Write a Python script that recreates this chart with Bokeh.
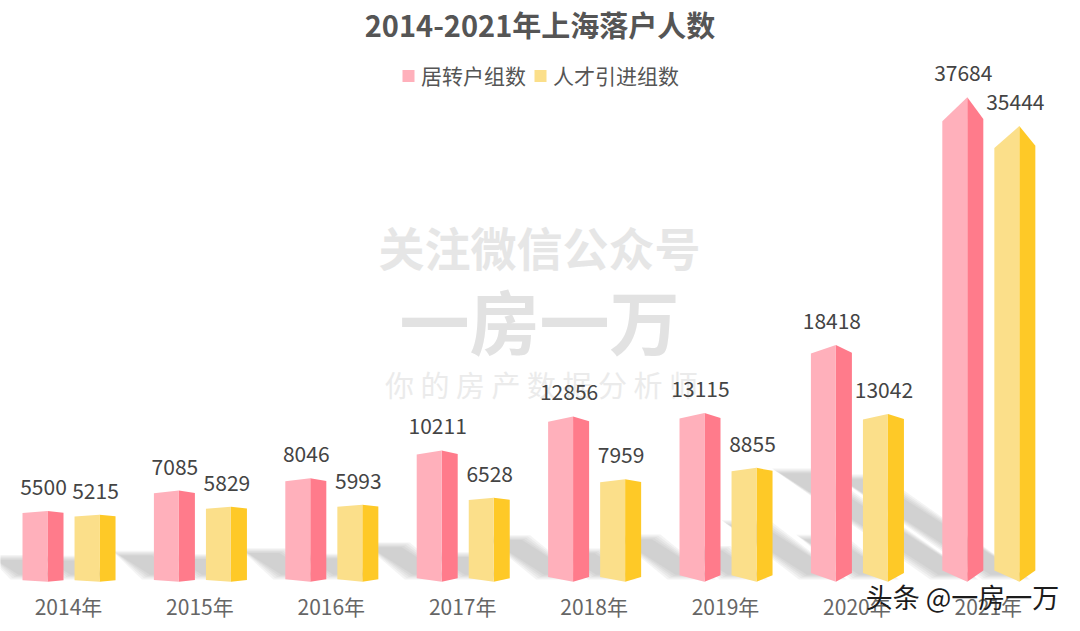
from bokeh.plotting import figure
from bokeh.core.properties import value
from bokeh.models import Range1d, Label, FixedTicker, Legend, LegendItem, ColumnDataSource
from bokeh.embed import file_html
from bokeh.resources import INLINE

# ---- data ----
years = ["2014年", "2015年", "2016年", "2017年", "2018年", "2019年", "2020年", "2021年"]
settled = [5500, 7085, 8046, 10211, 12856, 13115, 18418, 37684]
talent = [5215, 5829, 5993, 6528, 7959, 8855, 13042, 35444]
series_names = ["居转户组数", "人才引进组数"]
chart_title = "2014-2021年上海落户人数"

FONT = "Noto Sans CJK SC"

# ---- layout: page px -> data units ----
W, H = 1079, 629
BORDER_TOP = 42
PX_PER_CAT = 131.4
PX_PER_UNIT = 486 / 37684
BASE_PAGE_Y = 581
X0_PAGE = 68
frame_top = BORDER_TOP
frame_bottom = H


def px2x(px):
    return (px - X0_PAGE) / PX_PER_CAT


def px2y(py):
    return (BASE_PAGE_Y - py) / PX_PER_UNIT


p = figure(width=W, height=H, output_backend="svg", toolbar_location=None,
           x_range=Range1d(px2x(0), px2x(W)),
           y_range=Range1d(px2y(frame_bottom), px2y(frame_top)),
           y_axis_location=None,
           min_border_left=0, min_border_right=0,
           min_border_top=BORDER_TOP, min_border_bottom=0,
           background_fill_color="white", border_fill_color="white")
p.outline_line_color = None
p.grid.visible = False

p.title.text = chart_title
p.title.align = "center"
p.title.text_font = FONT
p.title.text_font_style = "bold"
p.title.text_font_size = "29px"
p.title.text_color = "#555555"
p.title.standoff = 0

ax = p.xaxis[0]
ax.fixed_location = px2y(590)
ax.ticker = FixedTicker(ticks=list(range(len(years))))
ax.major_label_overrides = {i: y for i, y in enumerate(years)}
ax.axis_line_color = None
ax.major_tick_line_color = None
ax.minor_tick_line_color = None
ax.major_tick_out = 0
ax.major_tick_in = 0
ax.minor_tick_out = 0
ax.major_label_text_font = FONT
ax.major_label_text_font_size = "21px"
ax.major_label_text_color = "#666666"
ax.major_label_standoff = 0


# ---- watermark (behind everything) ----
def watermark(text, px, py, size, color, style="bold"):
    p.add_layout(Label(x=px2x(px), y=px2y(py), text=text, text_align="center",
                       text_baseline="middle", text_font=FONT, text_font_size=size,
                       text_font_style=style, text_color=color, level="underlay"))


watermark("关注微信公众号", 539, 244, "46px", "#e6e6e6")
watermark("一房一万", 539, 318, "70px", "#e2e2e2")
watermark("你 的 房 产 数 据 分 析 师", 541, 383, "29px", "#ebebeb", "normal")


# ---- 3D bars ----
def top_drop(v):
    return 0.0003 * v + 9e-9 * v * v


def bottom_rise(i):
    return 1.5 + 0.2 * i * i


SHADOW_LAYERS = (8, 6, 4, 2, 0)


def build(values, off_l, off_m, off_r):
    front_x, front_y, side_x, side_y = [], [], [], []
    shadows = [([], []) for _ in SHADOW_LAYERS]
    for i, v in enumerate(values):
        xl, xm, xr = i + off_l, i + off_m, i + off_r
        rise = bottom_rise(i) / PX_PER_UNIT
        drop = top_drop(v) / PX_PER_UNIT
        front_x.append([xl, xm, xm, xl])
        front_y.append([rise, 0, v, v - drop])
        side_x.append([xm, xr, xr, xm])
        side_y.append([0, rise, v - drop * 0.9, v])
        # cast shadow, running up and to the left, layered for softness
        dx = -0.0042 * v / PX_PER_CAT
        dy = 0.0027 * v / PX_PER_UNIT
        for layer, grow in enumerate(SHADOW_LAYERS):
            g = grow / PX_PER_CAT
            gy = grow / PX_PER_UNIT * 0.6
            sx0 = xl - 4 / PX_PER_CAT - g
            sx1 = xm + 3 / PX_PER_CAT + g
            sy = 7 / PX_PER_UNIT
            shadows[layer][0].append([sx0, sx1, sx1 + dx, sx0 + dx])
            shadows[layer][1].append([sy - gy, sy - gy, sy + dy + gy, sy + dy + gy])
    return front_x, front_y, side_x, side_y, shadows


groups = [
    (settled, -0.35, -0.16, -0.038, "#ffb0bb", "#ff7b8b", series_names[0]),
    (talent, 0.046, 0.236, 0.358, "#fbdf8a", "#fec927", series_names[1]),
]
built = [build(g[0], g[1], g[2], g[3]) for g in groups]

for b in built:
    for layer_xs, layer_ys in b[4]:
        p.patches(layer_xs, layer_ys, fill_color="#8f8f8f", fill_alpha=0.1, line_color=None)

items = []
for g, b in zip(groups, built):
    side = p.patches(b[2], b[3], fill_color=g[5], line_color=None)
    front = p.patches(b[0], b[1], fill_color=g[4], line_color=None)
    items.append(LegendItem(label=g[6], renderers=[front]))

# ---- value labels ----
for g in groups:
    off_m = g[2]
    src = ColumnDataSource(dict(x=[i + off_m for i in range(len(g[0]))], y=g[0],
                                t=[str(v) for v in g[0]]))
    p.text("x", "y", text="t", source=src, x_offset=-4, y_offset=-24,
           text_align="center", text_baseline="middle", text_font=value(FONT),
           text_font_size="21px", text_color="#444444")

# ---- legend ----
legend = Legend(items=items, orientation="horizontal", location="top_center",
                margin=16, padding=0, spacing=6, label_standoff=6,
                glyph_width=15, glyph_height=15, border_line_color=None,
                background_fill_alpha=0, label_text_font=FONT,
                label_text_font_size="21px", label_text_color="#555555")
p.add_layout(legend)

# ---- publisher overlay ----
p.add_layout(Label(x=px2x(962), y=px2y(596), text="头条 @一房一万", text_align="center",
                   text_baseline="middle", text_font=FONT, text_font_size="27px",
                   text_color="#1c1c1c", level="overlay"))

open("out.html", "w").write(file_html(p, INLINE))
